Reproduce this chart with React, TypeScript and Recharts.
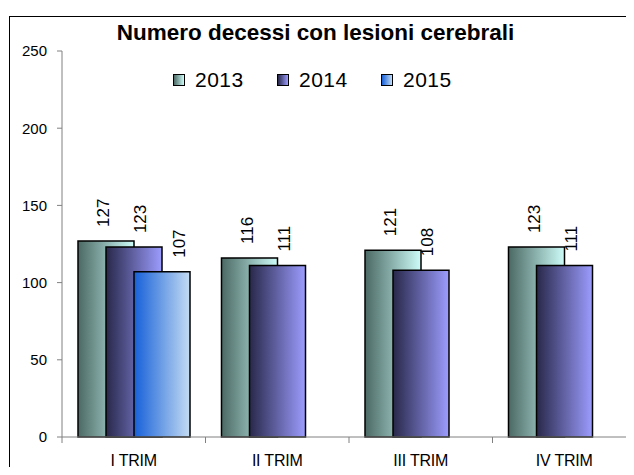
import { Bar, BarChart, LabelList, Legend, XAxis, YAxis } from "recharts";

const categories = ["I TRIM", "II TRIM", "III TRIM", "IV TRIM"];
const values2013 = [127, 116, 121, 123];
const values2014 = [123, 111, 108, 111];
const values2015 = [107, null, null, null];
const yTicks = [0, 50, 100, 150, 200, 250];

const series = [
  { key: "y2013", name: "2013", from: "#4b6964", to: "#cdfcf8", labelDx: -3 },
  { key: "y2014", name: "2014", from: "#28284a", to: "#9c9cff", labelDx: 6 },
  { key: "y2015", name: "2015", from: "#1660d8", to: "#c4dcf2", labelDx: 17 },
];

const data = categories.map((trim, i) => ({
  trim,
  y2013: values2013[i],
  y2014: values2014[i],
  y2015: values2015[i],
}));

const font = "'Liberation Sans', Arial, sans-serif";

function CategoryTick(props: any) {
  const { x, y, payload } = props;
  const half = payload.offset ?? 0;
  return (
    <g>
      <line x1={x - half} x2={x - half} y1={y} y2={y + 6} stroke="#808080" />
      <text x={x} y={y + 29} textAnchor="middle" fontSize={16} fill="#000" fontFamily={font} letterSpacing={-0.2}>
        {payload.value}
      </text>
    </g>
  );
}

function makeLabel(dx: number) {
  return (props: any) => {
    const { x, y, width, value } = props;
    if (value == null) return null;
    const cx = x + width / 2 + dx;
    const cy = y - 14;
    return (
      <text
        x={cx}
        y={cy}
        transform={`rotate(-90 ${cx} ${cy})`}
        dy="0.36em"
        textAnchor="start"
        fontSize={17}
        fill="#000"
        fontFamily={font}
      >
        {value}
      </text>
    );
  };
}

function LegendBox() {
  return (
    <div style={{ display: "flex", fontFamily: font, fontSize: 21, color: "#000" }}>
      {series.map((s) => (
        <div key={s.key} style={{ display: "flex", alignItems: "center", width: 104 }}>
          <span
            style={{
              display: "inline-block",
              width: 10,
              height: 10,
              border: "1px solid #000",
              background: `linear-gradient(to right, ${s.from}, ${s.to})`,
              marginRight: 10,
            }}
          />
          <span style={{ letterSpacing: 0.5 }}>{s.name}</span>
        </div>
      ))}
    </div>
  );
}

export default function App() {
  return (
    <div style={{ position: "relative", width: 634, height: 475, margin: -8, overflow: "hidden", background: "#fff" }}>
      <div
        style={{
          position: "absolute",
          left: 9,
          top: 16,
          width: 700,
          height: 600,
          border: "1px solid #000",
        }}
      />
      <div
        style={{
          position: "absolute",
          left: 0,
          width: 631,
          top: 20,
          textAlign: "center",
          fontFamily: font,
          fontWeight: "bold",
          fontSize: 22.5,
          color: "#000",
        }}
      >
        Numero decessi con lesioni cerebrali
      </div>
      <div style={{ position: "absolute", left: 0, top: 0 }}>
        <BarChart
          width={640}
          height={475}
          data={data}
          margin={{ top: 51, right: 4, bottom: 8, left: 0 }}
          barSize={56}
          barGap={-28}
        >
          <defs>
            {series.map((s) => (
              <linearGradient key={s.key} id={`g-${s.key}`} x1="0" y1="0" x2="1" y2="0">
                <stop offset="0%" stopColor={s.from} />
                <stop offset="100%" stopColor={s.to} />
              </linearGradient>
            ))}
          </defs>
          <XAxis
            dataKey="trim"
            height={30}
            interval={0}
            tickLine={false}
            tickSize={0}
            tickMargin={0}
            axisLine={{ stroke: "#808080" }}
            tick={<CategoryTick />}
          />
          <YAxis
            width={62}
            domain={[0, 250]}
            ticks={yTicks}
            interval={0}
            tickSize={5}
            tickMargin={10}
            axisLine={{ stroke: "#808080" }}
            tickLine={{ stroke: "#808080" }}
            tick={{ fill: "#000", fontSize: 15, fontFamily: font }}
          />
          <Legend
            verticalAlign="middle"
            align="center"
            layout="horizontal"
            wrapperStyle={{ top: 68, left: 173, width: 340 }}
            content={() => <LegendBox />}
          />
          {series.map((s) => (
            <Bar
              key={s.key}
              dataKey={s.key}
              name={s.name}
              fill={`url(#g-${s.key})`}
              stroke="#000"
              strokeWidth={1.5}
              isAnimationActive={false}
            >
              <LabelList dataKey={s.key} content={makeLabel(s.labelDx)} />
            </Bar>
          ))}
        </BarChart>
      </div>
    </div>
  );
}
